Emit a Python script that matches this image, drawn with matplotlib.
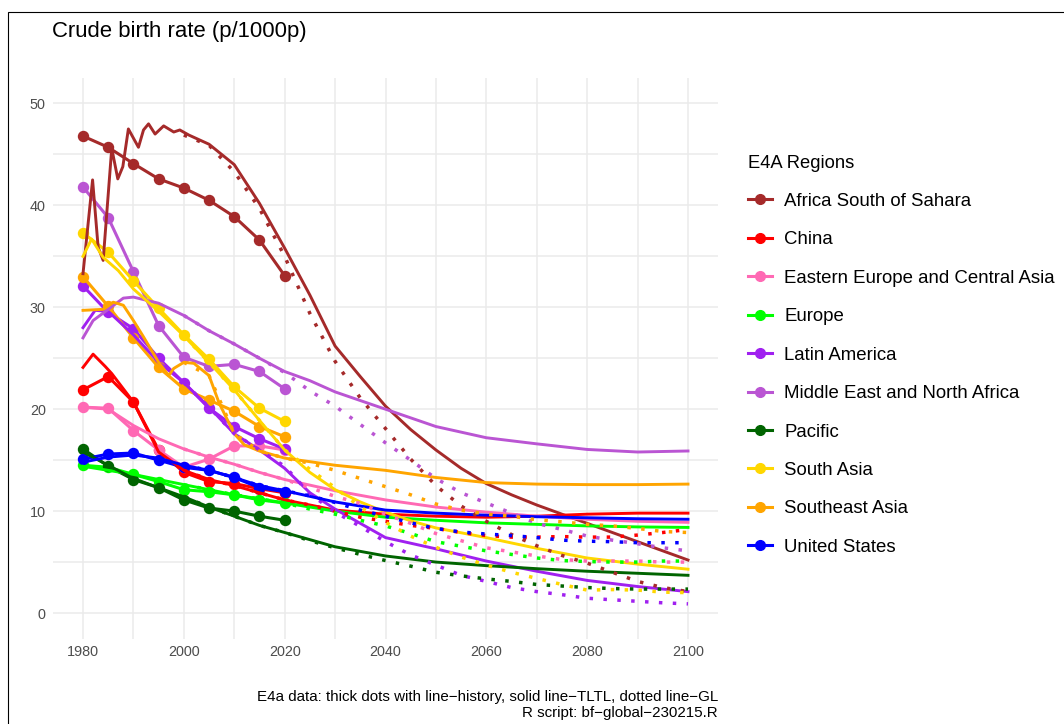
import matplotlib
matplotlib.use("Agg")
import matplotlib.pyplot as plt
from matplotlib.lines import Line2D
from matplotlib.patches import Rectangle

plt.rcParams['font.family'] = ['Liberation Sans', 'DejaVu Sans']

regions = ["Africa South of Sahara", "China", "Eastern Europe and Central Asia",
           "Europe", "Latin America", "Middle East and North Africa", "Pacific",
           "South Asia", "Southeast Asia", "United States"]
colors = ["#A52A2A", "#FF0000", "#FF69B4", "#00FF00", "#A020F0",
          "#BA55D3", "#006400", "#FFD700", "#FFA500", "#0000FF"]

# history: thick dots every 5 years
hist_years = [1980, 1985, 1990, 1995, 2000, 2005, 2010, 2015, 2020]
hist_africa = [46.8, 45.7, 44.1, 42.6, 41.7, 40.5, 38.9, 36.6, 33.1]
hist_china = [21.9, 23.2, 20.7, 16.0, 13.8, 12.9, 12.7, 12.2, 11.8]
hist_eeca = [20.2, 20.1, 17.9, 16.0, 14.3, 15.1, 16.4, 16.4, 16.0]
hist_europe = [14.5, 14.3, 13.6, 12.9, 12.1, 11.9, 11.6, 11.1, 10.8]
hist_latam = [32.1, 29.5, 27.9, 25.0, 22.6, 20.1, 18.3, 17.1, 16.1]
hist_mena = [41.8, 38.8, 33.5, 28.2, 25.1, 24.2, 24.4, 23.7, 22.0]
hist_pacific = [16.1, 14.4, 13.1, 12.3, 11.1, 10.3, 10.0, 9.5, 9.1]
hist_sasia = [37.3, 35.4, 32.6, 29.9, 27.3, 24.9, 22.2, 20.1, 18.8]
hist_seasia = [33.0, 30.1, 27.0, 24.1, 22.0, 20.9, 19.8, 18.3, 17.3]
hist_us = [15.1, 15.6, 15.7, 15.0, 14.3, 14.0, 13.3, 12.3, 11.9]

# TLTL: solid lines
tltl_yrs_africa = [1980, 1981.9, 1983, 1984, 1985.7, 1986.9, 1987.9, 1989, 1991, 1992,
                   1993, 1994.3, 1996, 1998, 1999.2, 2001, 2005, 2010, 2015, 2020,
                   2025, 2030, 2035, 2040, 2045, 2050, 2055, 2060, 2065, 2070,
                   2075, 2080, 2085, 2090, 2095, 2100]
tltl_africa = [33.3, 42.5, 35.9, 34.6, 45.6, 42.6, 43.8, 47.5, 45.7, 47.4,
               48.0, 47.0, 47.8, 47.2, 47.4, 46.9, 46.0, 44.0, 40.2, 35.8,
               31.2, 26.2, 23.2, 20.3, 18.0, 16.0, 14.2, 12.7, 11.6, 10.6,
               9.7, 8.8, 7.9, 7.0, 6.1, 5.2]
tltl_yrs_china = [1980, 1982, 1984.4, 1985.7, 1990, 1995, 2000, 2005, 2010, 2015,
                  2020, 2030, 2040, 2050, 2060, 2070, 2080, 2090, 2100]
tltl_china = [24.1, 25.4, 24.2, 23.5, 20.7, 15.8, 14.0, 13.1, 12.5, 11.8,
              11.1, 10.1, 9.7, 9.5, 9.4, 9.5, 9.7, 9.8, 9.8]
tltl_yrs_eeca = [1980, 1985, 1990, 1995, 2000, 2005, 2010, 2015, 2020, 2030,
                 2040, 2050, 2060, 2070, 2080, 2090, 2100]
tltl_eeca = [20.2, 20.0, 18.4, 17.1, 16.1, 15.3, 14.6, 13.8, 13.1, 12.0,
             11.1, 10.4, 9.9, 9.5, 9.2, 9.0, 8.9]
tltl_yrs_europe = [1980, 1990, 2000, 2010, 2020, 2030, 2040, 2050, 2060, 2070,
                   2080, 2090, 2100]
tltl_europe = [14.4, 13.6, 12.6, 11.6, 10.8, 10.0, 9.4, 9.1, 8.85, 8.7,
               8.55, 8.45, 8.4]
tltl_yrs_latam = [1980, 1982.4, 1985, 1990, 1995, 2000, 2005, 2010, 2015, 2020,
                  2025, 2030, 2035, 2040, 2050, 2060, 2070, 2080, 2090, 2100]
tltl_latam = [28.0, 29.7, 29.6, 27.3, 24.6, 22.6, 20.2, 17.6, 16.0, 14.2,
              11.8, 10.2, 8.8, 7.4, 6.3, 5.1, 4.1, 3.2, 2.6, 2.1]
tltl_yrs_mena = [1980, 1982, 1985, 1988, 1990, 1995, 2000, 2005, 2010, 2015,
                 2020, 2025, 2030, 2040, 2050, 2060, 2070, 2080, 2090, 2100]
tltl_mena = [27.0, 28.7, 29.8, 30.9, 31.0, 30.4, 29.2, 27.7, 26.4, 25.0,
             23.7, 22.8, 21.7, 20.0, 18.3, 17.2, 16.6, 16.05, 15.8, 15.9]
tltl_yrs_pacific = [1980, 1985, 1990, 1995, 2000, 2005, 2010, 2015, 2020, 2030,
                    2040, 2050, 2060, 2070, 2080, 2090, 2100]
tltl_pacific = [15.8, 14.5, 13.2, 12.3, 11.4, 10.4, 9.5, 8.6, 7.9, 6.5,
                5.6, 5.0, 4.65, 4.35, 4.1, 3.9, 3.7]
tltl_yrs_sasia = [1980, 1981.7, 1984, 1987, 1990, 1995, 2000, 2005, 2010, 2015,
                  2020, 2025, 2030, 2035, 2040, 2045, 2050, 2060, 2070, 2080,
                  2090, 2100]
tltl_sasia = [35.0, 36.7, 34.9, 33.6, 31.8, 29.6, 27.2, 24.6, 21.9, 18.9,
              16.0, 13.8, 12.1, 10.9, 9.9, 9.05, 8.35, 7.4, 6.35, 5.4,
              4.8, 4.3]
tltl_yrs_seasia = [1980, 1984, 1986, 1988, 1990, 1992, 1995, 1997, 1998, 2000,
                   2002, 2005, 2007, 2010, 2012, 2015, 2020, 2030, 2040, 2050,
                   2060, 2070, 2080, 2090, 2100]
tltl_seasia = [29.7, 29.8, 30.5, 30.2, 28.7, 27.1, 24.6, 23.3, 24.0, 24.6,
               24.5, 23.3, 20.6, 17.6, 16.5, 15.9, 15.2, 14.5, 14.0, 13.3,
               12.8, 12.65, 12.6, 12.6, 12.65]
tltl_yrs_us = [1980, 1985, 1990, 1995, 2000, 2005, 2010, 2015, 2020, 2030,
               2040, 2050, 2060, 2070, 2080, 2090, 2100]
tltl_us = [14.8, 15.3, 15.5, 15.2, 14.5, 14.0, 13.3, 12.5, 12.0, 10.9,
           10.1, 9.8, 9.6, 9.45, 9.35, 9.25, 9.2]

# GL: dotted lines, 2000-2100 every 5 years
gl_years = [2000, 2005, 2010, 2015, 2020, 2025, 2030, 2035, 2040, 2045, 2050,
            2055, 2060, 2065, 2070, 2075, 2080, 2085, 2090, 2095, 2100]
gl_africa = [46.9, 45.9, 43.3, 39.7, 35.0, 29.4, 24.7, 21.1, 18.1, 15.1, 12.5,
             10.5, 9.0, 7.7, 6.6, 5.65, 4.9, 4.0, 3.1, 2.5, 2.1]
gl_china = [14.0, 13.1, 12.5, 11.8, 11.1, 10.6, 10.0, 9.4, 9.0, 8.6, 8.3,
            7.9, 7.6, 7.45, 7.45, 7.5, 7.45, 7.45, 7.65, 7.9, 8.2]
gl_eeca = [16.1, 15.3, 14.6, 13.8, 13.1, 12.3, 11.45, 10.75, 9.7, 8.8, 7.8,
           7.1, 6.4, 6.0, 5.6, 5.25, 5.1, 5.1, 5.1, 5.0, 5.0]
gl_europe = [12.6, 12.1, 11.6, 11.2, 10.8, 10.2, 9.7, 9.1, 8.55, 7.8, 7.0,
             6.55, 6.1, 5.75, 5.4, 5.15, 5.05, 5.0, 5.0, 5.1, 5.1]
gl_latam = [22.6, 20.2, 17.6, 16.0, 14.4, 11.7, 9.9, 8.5, 7.0, 5.7, 4.7,
            3.7, 3.1, 2.5, 2.1, 1.8, 1.45, 1.3, 1.15, 1.0, 0.9]
gl_mena = [29.2, 27.7, 26.4, 25.0, 23.6, 21.8, 20.3, 18.5, 16.7, 15.0, 13.2,
           11.8, 10.8, 9.8, 8.8, 8.2, 7.55, 7.15, 6.8, 6.4, 6.1]
gl_pacific = [11.4, 10.4, 9.5, 8.6, 7.9, 7.1, 6.4, 5.75, 5.15, 4.6, 4.0,
              3.65, 3.35, 3.1, 2.8, 2.65, 2.5, 2.4, 2.35, 2.35, 2.35]
gl_sasia = [27.2, 24.6, 21.9, 18.9, 16.0, 14.1, 12.3, 10.4, 8.9, 7.55, 6.45,
            5.5, 4.7, 4.0, 3.4, 2.8, 2.25, 2.3, 2.25, 2.05, 2.0]
gl_seasia = [24.6, 23.3, 17.6, 15.9, 15.2, 14.7, 14.0, 13.2, 12.4, 11.6, 10.7,
             10.1, 9.7, 9.5, 9.15, 8.95, 8.7, 8.55, 8.3, 8.0, 7.9]
gl_us = [14.5, 14.0, 13.3, 12.5, 12.0, 11.5, 10.85, 10.1, 9.5, 8.85, 8.3,
         7.95, 7.75, 7.6, 7.4, 7.15, 7.05, 7.0, 6.9, 6.9, 6.9]

hist_all = [hist_africa, hist_china, hist_eeca, hist_europe, hist_latam,
            hist_mena, hist_pacific, hist_sasia, hist_seasia, hist_us]
tltl_all = [(tltl_yrs_africa, tltl_africa), (tltl_yrs_china, tltl_china),
            (tltl_yrs_eeca, tltl_eeca), (tltl_yrs_europe, tltl_europe),
            (tltl_yrs_latam, tltl_latam), (tltl_yrs_mena, tltl_mena),
            (tltl_yrs_pacific, tltl_pacific), (tltl_yrs_sasia, tltl_sasia),
            (tltl_yrs_seasia, tltl_seasia), (tltl_yrs_us, tltl_us)]
gl_all = [gl_africa, gl_china, gl_eeca, gl_europe, gl_latam,
          gl_mena, gl_pacific, gl_sasia, gl_seasia, gl_us]

W, H = 1064, 724
fig = plt.figure(figsize=(W / 100, H / 100), dpi=100)
left, right, top, bottom = 52.75, 718.25, 78, 638.5
ax = fig.add_axes([left / W, 1 - bottom / H, (right - left) / W, (bottom - top) / H])

for i in range(len(regions)):
    c = colors[i]
    ax.plot(hist_years, hist_all[i], color=c, lw=2.2, marker='o', ms=7.2,
            zorder=2)
    ax.plot(tltl_all[i][0], tltl_all[i][1], color=c, lw=2.1, zorder=3)
    ax.plot(gl_years, gl_all[i], color=c, lw=2.5, ls=(0, (1, 3)),
            dash_capstyle='butt', zorder=4)

ax.set_xlim(1974, 2106)
ax.set_ylim(-2.5, 52.5)
ax.set_xticks(range(1980, 2101, 20))
ax.set_xticks(range(1990, 2100, 20), minor=True)
ax.set_yticks(range(0, 51, 10))
ax.set_yticks(range(5, 50, 10), minor=True)
ax.grid(which='both', color='#EBEBEB', lw=1.1)
ax.set_axisbelow(True)
for s in ax.spines.values():
    s.set_visible(False)
ax.tick_params(which='both', length=0, labelsize=10.4, labelcolor='#4D4D4D', pad=5)

fig.text(52 / W, 1 - 31 / H, "Crude birth rate (p/1000p)", fontsize=15.9,
         ha='left', va='center')
fig.text(718 / W, 1 - 697 / H,
         "E4a data: thick dots with line\u2212history, solid line\u2212TLTL, dotted line\u2212GL",
         fontsize=10.9, ha='right', va='center')
fig.text(718 / W, 1 - 713 / H, "R script: bf\u2212global\u2212230215.R",
         fontsize=10.9, ha='right', va='center')

handles = [Line2D([], [], color=c, lw=2.2, marker='o', ms=7) for c in colors]
ax.legend(handles, regions, loc='upper left', bbox_to_anchor=(748 / W, 1 - 154.5 / H),
          bbox_transform=fig.transFigure, frameon=False, fontsize=13.4,
          title="E4A Regions", title_fontsize=13.2, alignment='left',
          handlelength=1.29, handletextpad=0.65, labelspacing=1.15,
          borderpad=0, borderaxespad=0)

fig.patches.append(Rectangle((8 / W, -0.1), 1.2, 1.1 - 12 / H, transform=fig.transFigure,
                             fill=False, edgecolor='black', lw=0.8))

fig.savefig("out.png", dpi=100)
